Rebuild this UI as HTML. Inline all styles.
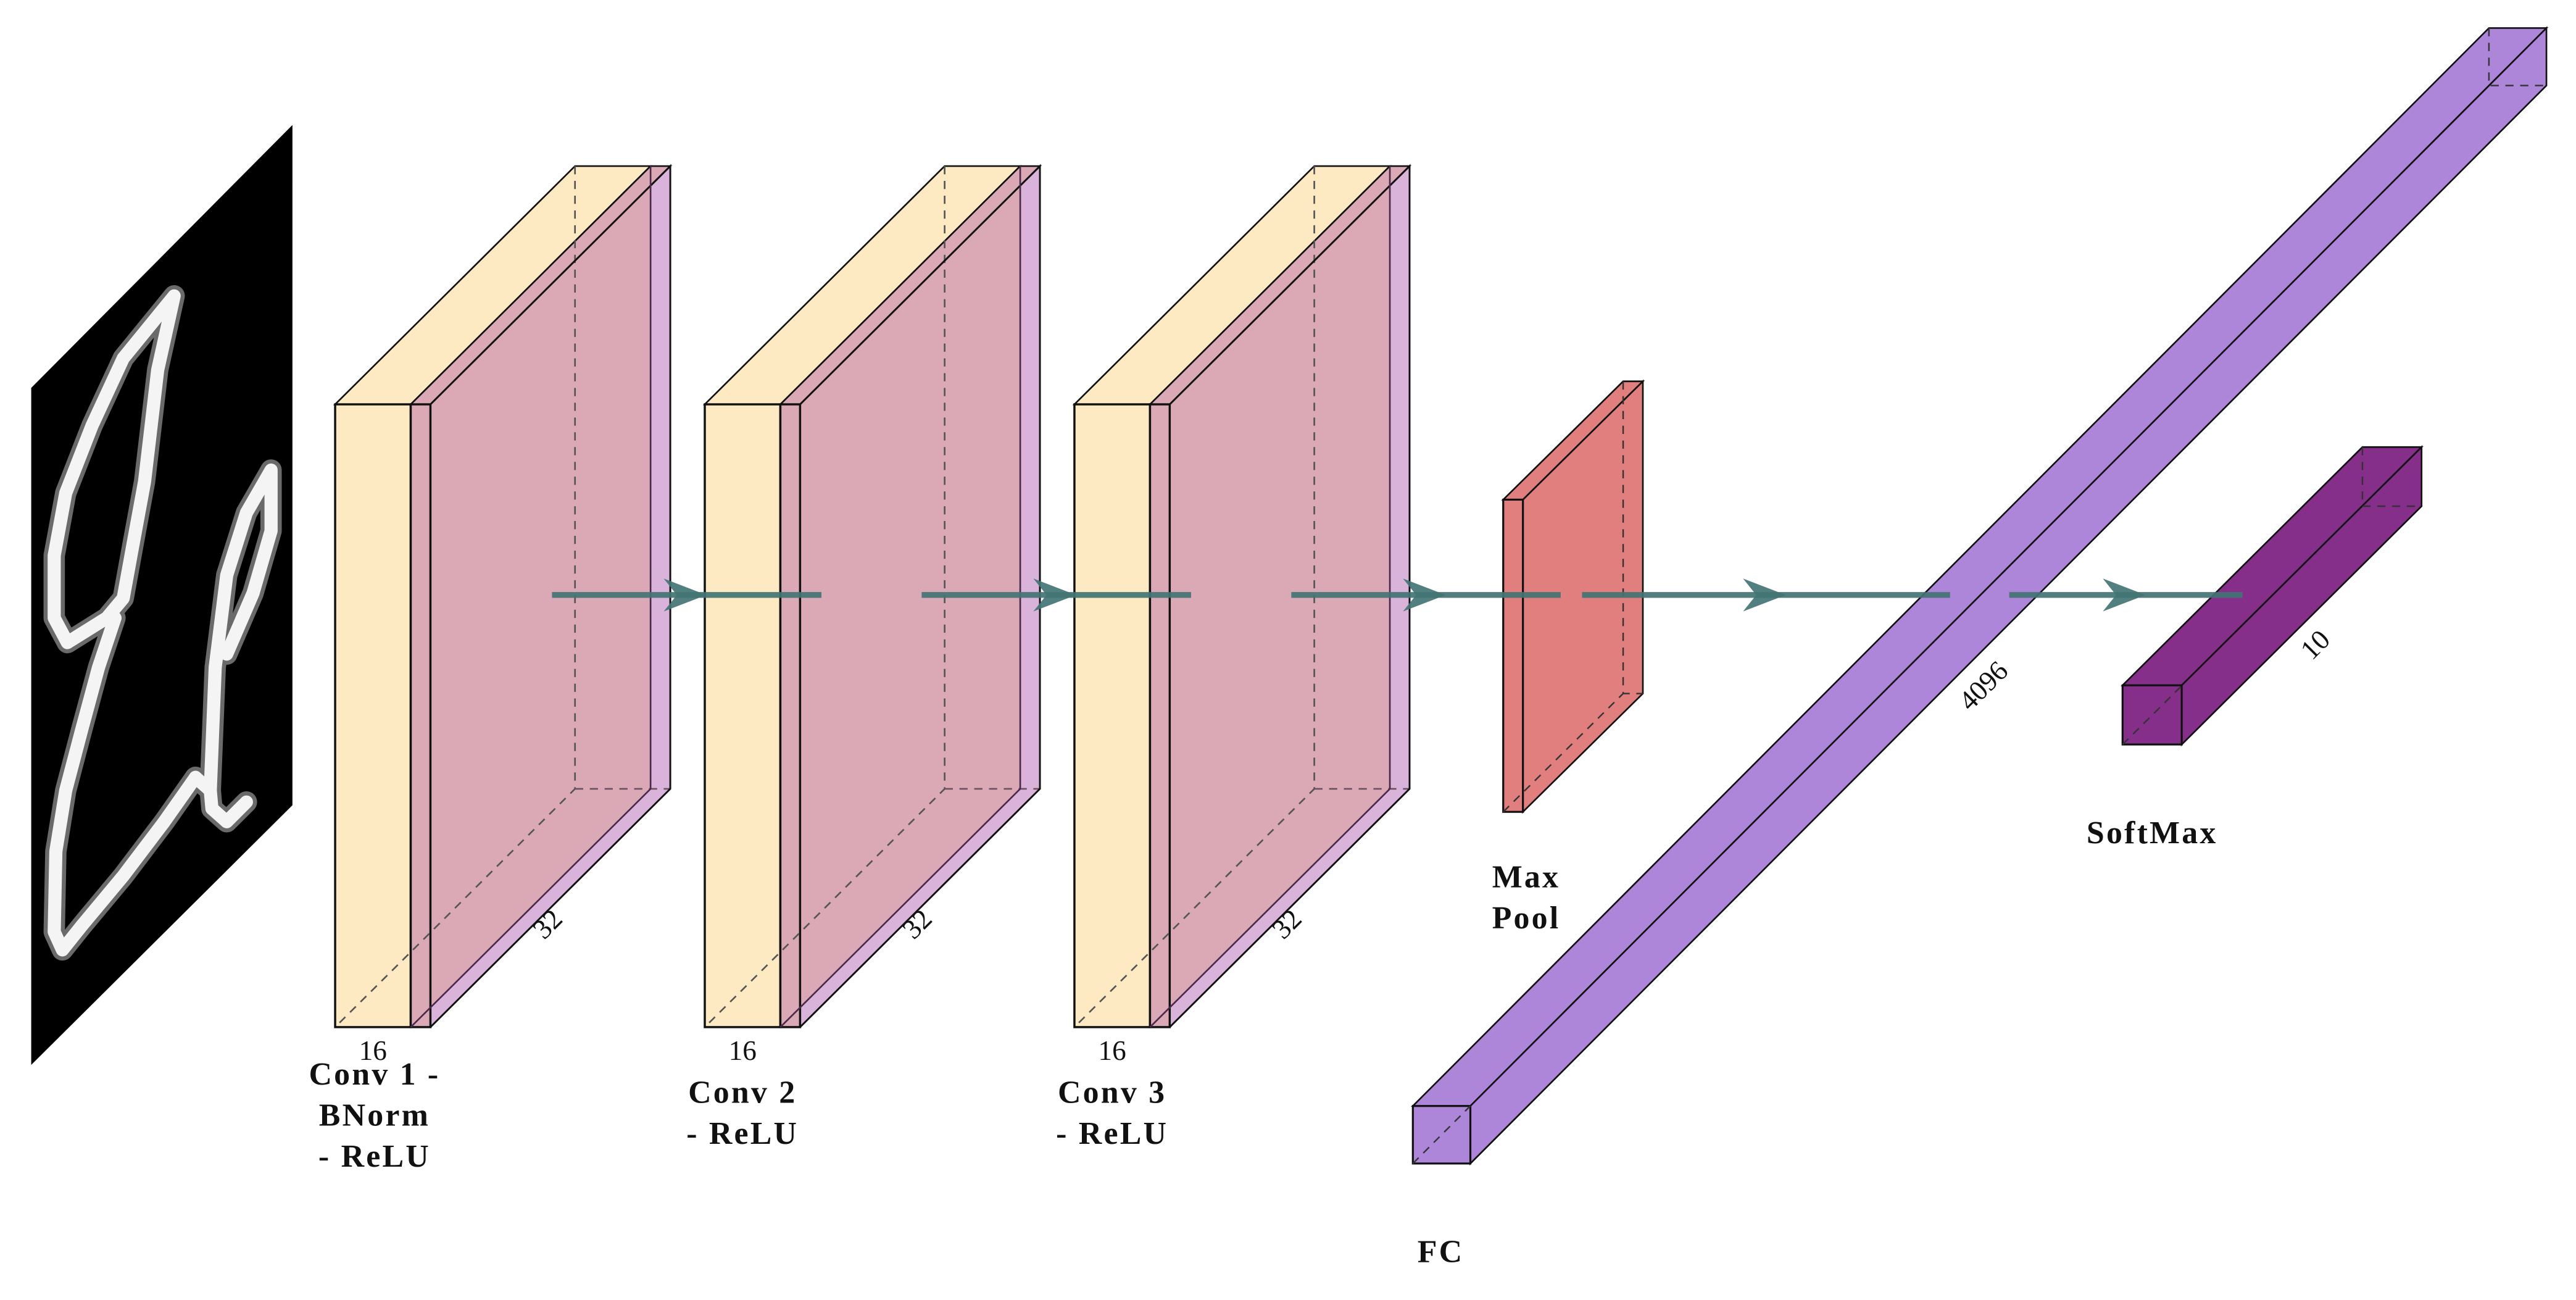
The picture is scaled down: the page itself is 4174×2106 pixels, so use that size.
<!DOCTYPE html>
<html><head><meta charset="utf-8"><style>
html,body{margin:0;padding:0;background:#fff;}
svg{display:block;}
text{font-family:"Liberation Serif",serif;fill:#111;}
.lbl{font-weight:bold;font-size:19.5px;text-anchor:middle;letter-spacing:1.2px;}
.dim{font-size:17px;text-anchor:middle;}
</style></head><body>
<svg id="chart" width="4174" height="2106" viewBox="0 0 1568 791" xmlns="http://www.w3.org/2000/svg">
<g id="input">
  <defs><clipPath id="imgclip"><polygon points="19,236 178,76 178,490 19,648"/></clipPath></defs>
  <polygon points="19,236 178,76 178,490 19,648" fill="#000"/>
  <g clip-path="url(#imgclip)" fill="none" stroke-linecap="round" stroke-linejoin="round">
    <g stroke="#6a6a6a" stroke-width="13">
      <polyline points="106,180 75,218 56,259 40,300 33,338 33,376 41,391 65,376 75,364 81,331 88,293 96,225 106,180"/>
      <polyline points="70,376 60,406 50,443 40,481 34,518 33,567 38,578 50,563 75,533 100,500 119,473"/>
      <polyline points="119,473 128,481 131,406 138,350 150,312 165,286 165,323 154,361 138,398"/>
      <polyline points="128,481 129,492 138,500 150,488"/>
    </g>
    <g stroke="#f4f4f4" stroke-width="8">
      <polyline points="106,180 75,218 56,259 40,300 33,338 33,376 41,391 65,376 75,364 81,331 88,293 96,225 106,180"/>
      <polyline points="70,376 60,406 50,443 40,481 34,518 33,567 38,578 50,563 75,533 100,500 119,473"/>
      <polyline points="119,473 128,481 131,406 138,350 150,312 165,286 165,323 154,361 138,398"/>
      <polyline points="128,481 129,492 138,500 150,488"/>
    </g>
  </g>
</g>
<g id="convs"></g>
<g id="others"></g>
<g id="arrows"></g>
<g id="labels">
  <text class="lbl" x="228" y="660">Conv 1 -</text>
  <text class="lbl" x="228" y="685">BNorm</text>
  <text class="lbl" x="228" y="710">- ReLU</text>
  <text class="lbl" x="452" y="671">Conv 2</text>
  <text class="lbl" x="452" y="696">- ReLU</text>
  <text class="lbl" x="677" y="671">Conv 3</text>
  <text class="lbl" x="677" y="696">- ReLU</text>
  <text class="lbl" x="929" y="540">Max</text>
  <text class="lbl" x="929" y="565">Pool</text>
  <text class="lbl" x="877" y="768">FC</text>
  <text class="lbl" x="1310" y="513">SoftMax</text>
  <text class="dim" x="1207" y="423" transform="rotate(-45 1207 417)">4096</text>
  <text class="dim" x="1409" y="398" transform="rotate(-45 1409 392)">10</text>
</g>
</svg>
<script>
const convX = [204, 429, 654];
const convNames = ['conv1', 'conv2', 'conv3'];
const convDepthLabel = '16';
const convSizeLabel = '32';
const arrowStarts = [336, 561, 786, 963, 1223];
const arrowEnds = [500, 725, 950, 1187, 1365];
const NS = 'http://www.w3.org/2000/svg';
function mk(parent, tag, attrs) {
  const e = document.createElementNS(NS, tag);
  for (const k in attrs) e.setAttribute(k, attrs[k]);
  parent.appendChild(e);
  return e;
}
function pts(a) { return a.map(p => p.join(',')).join(' '); }
const convs = document.getElementById('convs');
const DX = 146, DY = -145, TOP = 246, BOT = 625;
convX.forEach((x0, i) => {
  const g = mk(convs, 'g', {});
  
  
  const x1 = x0 + 46, x2 = x1 + 12;
  mk(g, 'polygon', {points: pts([[x0,TOP],[x0+DX,TOP+DY],[x1+DX,TOP+DY],[x1,TOP]]), fill:'#fde9c2', stroke:'#111', 'stroke-width':1});
  mk(g, 'rect', {x:x0, y:TOP, width:46, height:BOT-TOP, fill:'#fde9c2', stroke:'#111', 'stroke-width':1.3});
  mk(g, 'polygon', {points: pts([[x2,TOP],[x2+DX,TOP+DY],[x2+DX,BOT+DY],[x2,BOT]]), fill:'#d9b3da'});
  mk(g, 'polygon', {points: pts([[x2,TOP-12],[x1+DX,TOP+DY],[x1+DX,BOT+DY],[x2,BOT-12]]), fill:'#dba9b5'});
  mk(g, 'polygon', {points: pts([[x1,TOP],[x1+DX,TOP+DY],[x2+DX,TOP+DY],[x2,TOP]]), fill:'#dba9b5', stroke:'#111', 'stroke-width':1});
  mk(g, 'rect', {x:x1, y:TOP, width:12, height:BOT-TOP, fill:'#dba9b5', stroke:'#111', 'stroke-width':1.3});
  mk(g, 'polyline', {points: pts([[x0+DX,TOP+DY],[x0+DX,BOT+DY],[x0,BOT]]), fill:'none', stroke:'#555', 'stroke-width':1, 'stroke-dasharray':'5,4'});
  mk(g, 'line', {x1:x0+DX, y1:BOT+DY, x2:x2+DX, y2:BOT+DY, stroke:'#6a5060', 'stroke-width':1, 'stroke-dasharray':'5,4'});
  mk(g, 'polyline', {points: pts([[x2,TOP],[x2+DX,TOP+DY],[x2+DX,BOT+DY],[x2,BOT]]), fill:'none', stroke:'#111', 'stroke-width':1.1});
  mk(g, 'line', {x1:x1+DX, y1:TOP+DY, x2:x1+DX, y2:BOT+DY, stroke:'#4a2a4a', 'stroke-width':1});
  mk(g, 'line', {x1:x1, y1:BOT, x2:x1+DX, y2:BOT+DY, stroke:'#4a2a4a', 'stroke-width':1});
  const t1 = mk(g, 'text', {class:'dim', x:x0+23, y:645});
  t1.textContent = convDepthLabel;
  
  
  const t2 = mk(g, 'text', {class:'dim', x:x0+129, y:568, transform:'rotate(-45 '+(x0+129)+' 562)'});
  t2.textContent = convSizeLabel;
  
  
});
const others = document.getElementById('others');
function box(name, x, y, w, h, dx, dy, fill, diagLen) {
  const g = mk(others, 'g', {});
  
  
  mk(g, 'polygon', {points: pts([[x,y],[x+dx,y+dy],[x+w+dx,y+dy],[x+w,y]]), fill:fill, stroke:'#111', 'stroke-width':1});
  mk(g, 'polygon', {points: pts([[x+w,y],[x+w+dx,y+dy],[x+w+dx,y+h+dy],[x+w,y+h]]), fill:fill, stroke:'#111', 'stroke-width':1});
  mk(g, 'rect', {x:x, y:y, width:w, height:h, fill:fill, stroke:'#111', 'stroke-width':1.2});
  mk(g, 'polyline', {points: pts([[x+dx,y+dy],[x+dx,y+h+dy],[x+w+dx,y+h+dy]]), fill:'none', stroke:'#333', 'stroke-width':0.9, 'stroke-dasharray':'5,4'});
  mk(g, 'line', {x1:x, y1:y+h, x2:x+diagLen, y2:y+h-diagLen*(-dy/dx), stroke:'#333', 'stroke-width':0.9, 'stroke-dasharray':'5,4'});
}
box('maxpool-block', 915, 304, 12, 190, 73, -72, '#e17e7e', 73);
box('fc-block', 860, 673, 35, 35, 655, -656, '#ad85d9', 35);
box('softmax-block', 1292, 417, 36, 36, 146, -145, '#852e8a', 36);
const arrows = document.getElementById('arrows');
arrowStarts.forEach((s, i) => {
  const e = arrowEnds[i];
  const g = mk(arrows, 'g', {});
  
  
  mk(g, 'line', {x1:s, y1:362, x2:e, y2:362, stroke:'#437474', 'stroke-width':3.5, opacity:0.92});
  const tip = (s + e) / 2 + 12;
  mk(g, 'polygon', {points: pts([[tip,362],[tip-26,352],[tip-18,362],[tip-26,372]]), fill:'#437474', opacity:0.92});
});
</script>
</body></html>
